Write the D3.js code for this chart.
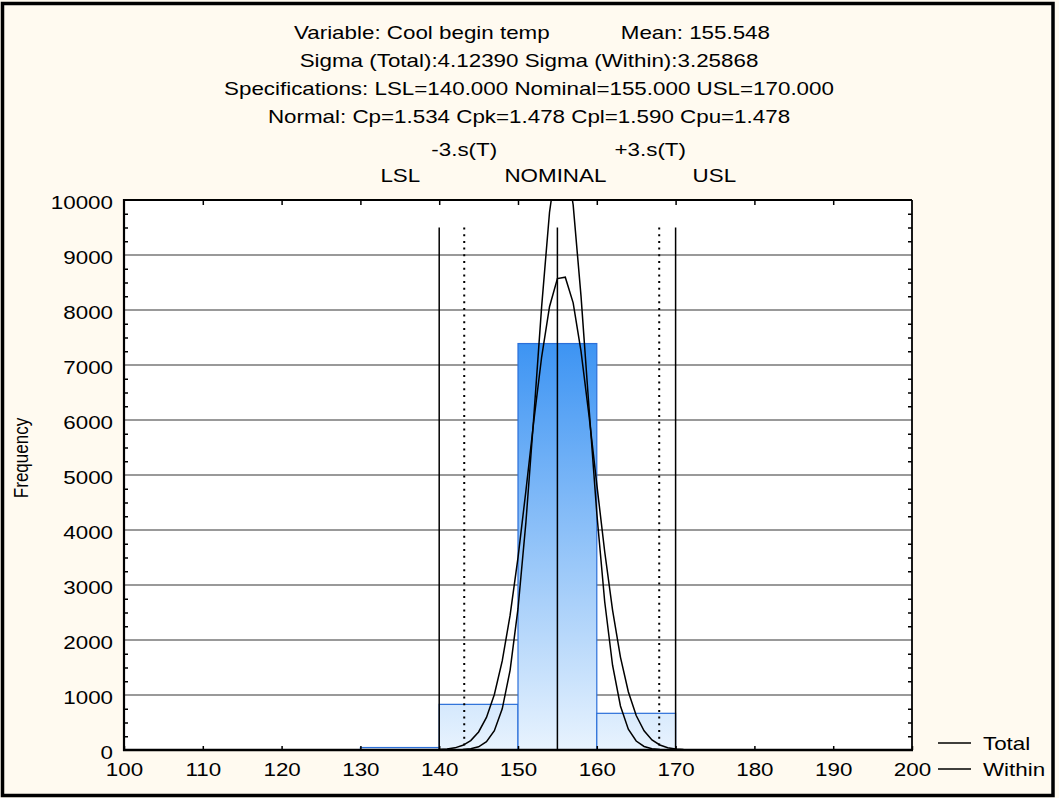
<!DOCTYPE html>
<html>
<head>
<meta charset="utf-8">
<script src="https://cdn.jsdelivr.net/npm/d3@7/dist/d3.min.js"></script>
<style>
body { margin: 0; background: #fff; }
svg text { font-family: "Liberation Sans", Arial, sans-serif; fill: #000; }
</style>
</head>
<body>
<svg width="1059" height="798"></svg>
<script>
// histogram bins (lower edge, width 10) and counts
const binStarts = [130, 140, 150, 160]
const binCounts = [45, 830, 7390, 667]

const curveX = [140, 141, 142, 143, 144, 145, 146, 147, 148, 149, 150, 151, 152, 153, 154, 155, 156,
                157, 158, 159, 160, 161, 162, 163, 164, 165, 166, 167, 168, 169, 170, 171, 172]
const totalCurve = [7, 17, 39, 85, 172, 328, 593, 1009, 1620, 2452, 3498, 4708, 5974, 7145, 8060, 8572, 8597,
                    8129, 7247, 6093, 4829, 3609, 2544, 1690, 1059, 626, 349, 183, 91, 42, 19, 8, 3]
const withinCurve = [0, 0.5, 2, 7, 21, 58, 150, 351, 749, 1453, 2569, 4133, 6050, 8062, 9777, 10792, 10840,
                     9911, 8247, 6245, 4305, 2700, 1541, 801, 379, 163, 64, 23, 7, 2, 1, 0, 0]

const specNames = ["LSL", "-3.s(T)", "NOMINAL", "+3.s(T)", "USL"]
const specValues = [140, 143.176, 155, 167.92, 170]

const xTicks = [100, 110, 120, 130, 140, 150, 160, 170, 180, 190, 200]
const yTicks = [0, 1000, 2000, 3000, 4000, 5000, 6000, 7000, 8000, 9000, 10000]

const titleLines = [
    "Sigma (Total):4.12390 Sigma (Within):3.25868",
    "Specifications: LSL=140.000 Nominal=155.000 USL=170.000",
    "Normal: Cp=1.534 Cpk=1.478 Cpl=1.590 Cpu=1.478"
]
const legendNames = ["Total", "Within"]

const svg = d3.select("svg")
const W = 1059, H = 798
const SX = 1.21   // the picture's lettering is wider than plain Arial
const FS = 18.5

const x = d3.scaleLinear().domain([100, 200]).range([124, 912])
const y = d3.scaleLinear().domain([0, 10000]).range([750, 200])

function label(g, txt, px, py, anchor, size) {
    return g.append("text")
        .attr("transform", `translate(${px},${py}) scale(${SX},1)`)
        .attr("text-anchor", anchor || "middle")
        .style("font-size", (size || FS) + "px")
        .text(txt)
}

// background + frame
svg.append("rect").attr("width", W).attr("height", H).attr("fill", "#fffaf0")
svg.append("rect")
    .attr("x", 2.5).attr("y", 3.5)
    .attr("width", 1050.5).attr("height", 792)
    .attr("fill", "none").attr("stroke", "#000").attr("stroke-width", 3.5)

// titles
label(svg, "Variable: Cool begin temp", 294, 39, "start")
label(svg, "Mean: 155.548", 770, 39, "end")
titleLines.forEach((t, i) => label(svg, t, 529, 67 + i * 28))

// plot area
svg.append("rect")
    .attr("x", x(100)).attr("y", y(10000))
    .attr("width", x(200) - x(100)).attr("height", y(0) - y(10000))
    .attr("fill", "#fff")

svg.append("clipPath").attr("id", "clip")
    .append("rect")
    .attr("x", x(100)).attr("y", y(10000))
    .attr("width", x(200) - x(100)).attr("height", y(0) - y(10000))

svg.append("g")
    .selectAll("line")
    .data(yTicks.filter(d => d > 0 && d < 10000))
    .enter()
    .append("line")
    .attr("x1", x(100)).attr("x2", x(200))
    .attr("y1", d => y(d)).attr("y2", d => y(d))
    .attr("stroke", "#777").attr("stroke-width", 1.5)

// bars
const grad = svg.append("defs").append("linearGradient")
    .attr("id", "barFill")
    .attr("gradientUnits", "userSpaceOnUse")
    .attr("x1", 0).attr("x2", 0)
    .attr("y1", y(d3.max(binCounts))).attr("y2", y(0))
grad.append("stop").attr("offset", 0).attr("stop-color", "#3d94f3")
grad.append("stop").attr("offset", 1).attr("stop-color", "#e8f3fe")

svg.append("g")
    .selectAll("rect")
    .data(binStarts)
    .enter()
    .append("rect")
    .attr("x", d => x(d))
    .attr("y", (d, i) => y(binCounts[i]))
    .attr("width", d => x(d + 10) - x(d))
    .attr("height", (d, i) => y(0) - y(binCounts[i]))
    .attr("fill", "url(#barFill)")
    .attr("stroke", "#2b6fd9").attr("stroke-width", 1.2)

// curves
const line = d3.line()
    .x((d, i) => x(curveX[i]))
    .y(d => y(d))

svg.append("g")
    .attr("clip-path", "url(#clip)")
    .selectAll("path")
    .data([totalCurve, withinCurve])
    .enter()
    .append("path")
    .attr("d", d => line(d))
    .attr("fill", "none")
    .attr("stroke", "#000").attr("stroke-width", 1.5)

// spec lines
svg.append("g")
    .selectAll("line")
    .data(specValues)
    .enter()
    .append("line")
    .attr("x1", d => x(d)).attr("x2", d => x(d))
    .attr("y1", y(9500)).attr("y2", y(0))
    .attr("stroke", "#000")
    .attr("stroke-width", (d, i) => specNames[i].includes("s(T)") ? 2 : 1.5)
    .attr("stroke-dasharray", (d, i) => specNames[i].includes("s(T)") ? "2,4.7" : null)

const specLabels = svg.append("g")
specNames.forEach((name, i) => {
    const px = x(specValues[i])
    if (name === "LSL") label(specLabels, name, px - 19, 182, "end")
    else if (name === "USL") label(specLabels, name, px + 17, 182, "start")
    else if (name === "NOMINAL") label(specLabels, name, px - 2, 182)
    else if (name[0] === "-") label(specLabels, name, px, 156)
    else label(specLabels, name, px - 9, 156)
})

// axes
const minorY = d3.range(250, 10000, 250).filter(d => d % 1000 !== 0)

svg.append("g")
    .attr("transform", `translate(0,${y(0)})`)
    .call(d3.axisBottom(x).tickValues(xTicks).tickSizeInner(-4).tickSizeOuter(0).tickPadding(13))
    .call(g => g.select(".domain").remove())
    .call(g => g.selectAll("line").attr("stroke-width", 1.5))
    .call(g => g.selectAll("text").attr("transform", `scale(${SX},1)`).style("font-size", FS + "px").attr("font-family", null))

svg.append("g")
    .attr("transform", `translate(0,${y(10000)})`)
    .call(d3.axisTop(x).tickValues(xTicks.slice(1, -1)).tickSizeInner(-5).tickSizeOuter(0).tickFormat(""))
    .call(g => g.select(".domain").remove())
    .call(g => g.selectAll("line").attr("stroke-width", 1.5))

svg.append("g")
    .attr("transform", `translate(${x(100)},0)`)
    .call(d3.axisLeft(y).tickValues(yTicks).tickFormat(d3.format("d")).tickSizeInner(0).tickSizeOuter(0).tickPadding(11 / SX))
    .call(g => g.select(".domain").remove())
    .call(g => g.selectAll("text").attr("transform", `scale(${SX},1)`).attr("dy", "0.45em").style("font-size", FS + "px").attr("font-family", null))

svg.append("g")
    .attr("transform", `translate(${x(100)},0)`)
    .call(d3.axisLeft(y).tickValues(minorY).tickSizeInner(-4).tickSizeOuter(0).tickFormat(""))
    .call(g => g.select(".domain").remove())
    .call(g => g.selectAll("line").attr("stroke-width", 1.5))

svg.append("g")
    .attr("transform", `translate(${x(200)},0)`)
    .call(d3.axisRight(y).tickValues(minorY).tickSizeInner(-4).tickSizeOuter(0).tickFormat(""))
    .call(g => g.select(".domain").remove())
    .call(g => g.selectAll("line").attr("stroke-width", 1.5))

// plot frame
const frame = svg.append("g").attr("stroke", "#000").attr("fill", "none")
frame.append("line").attr("x1", x(100)).attr("x2", x(200)).attr("y1", y(10000)).attr("y2", y(10000)).attr("stroke-width", 1.8)
frame.append("line").attr("x1", x(200)).attr("x2", x(200)).attr("y1", y(10000)).attr("y2", y(0)).attr("stroke-width", 1.8)
frame.append("line").attr("x1", x(100)).attr("x2", x(100)).attr("y1", y(10000) - 1).attr("y2", y(0) + 1).attr("stroke-width", 2.2)
frame.append("line").attr("x1", x(100) - 1).attr("x2", x(200) + 1).attr("y1", y(0)).attr("y2", y(0)).attr("stroke-width", 2.6)

// y title
svg.append("text")
    .attr("transform", `translate(28,458) scale(${SX},1) rotate(-90)`)
    .attr("text-anchor", "middle")
    .style("font-size", "17px")
    .text("Frequency")

// legend
const legend = svg.append("g")
legendNames.forEach((name, i) => {
    legend.append("line")
        .attr("x1", 938).attr("x2", 971)
        .attr("y1", 743 + i * 26).attr("y2", 743 + i * 26)
        .attr("stroke", "#000").attr("stroke-width", 1.5)
    label(legend, name, 983, 750 + i * 26, "start")
})
</script>
</body>
</html>
